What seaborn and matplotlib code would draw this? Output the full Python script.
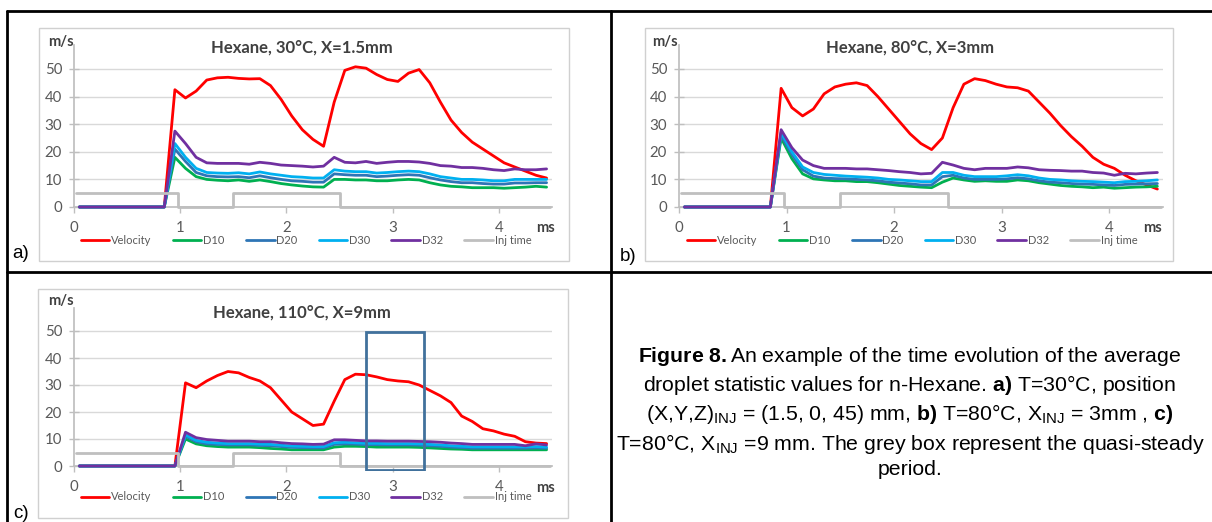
import matplotlib
matplotlib.use("Agg")
import matplotlib.pyplot as plt
import seaborn as sns
from matplotlib.patches import Rectangle
from matplotlib.lines import Line2D

sns.set_theme(style="white")
plt.rcParams['font.family'] = ['Lato', 'DejaVu Sans']
plt.rcParams['mathtext.fontset'] = 'custom'
plt.rcParams['mathtext.rm'] = 'Liberation Sans'
plt.rcParams['mathtext.bf'] = 'Liberation Sans:bold'
plt.rcParams['mathtext.it'] = 'Liberation Sans:italic'

W, H = 1212, 522

# ---------------- data ----------------
t = [0.05, 0.15, 0.25, 0.35, 0.45, 0.55, 0.65, 0.75, 0.85, 0.95,
     1.05, 1.15, 1.25, 1.35, 1.45, 1.55, 1.65, 1.75, 1.85, 1.95,
     2.05, 2.15, 2.25, 2.35, 2.45, 2.55, 2.65, 2.75, 2.85, 2.95,
     3.05, 3.15, 3.25, 3.35, 3.45, 3.55, 3.65, 3.75, 3.85, 3.95,
     4.05, 4.15, 4.25, 4.35, 4.45]

series_names = ["Velocity", "D10", "D20", "D30", "D32"]
inj_name = "Inj time"
inj_t = [0.02, 0.98, 0.98, 1.5, 1.5, 2.5, 2.5, 4.48]
inj_v = [5, 5, 0, 0, 5, 5, 0, 0]

# panel a) Hexane, 30°C, X=1.5mm
vel_a = [0, 0, 0, 0, 0, 0, 0, 0, 0,
         42.5, 39.5, 42, 46, 46.8, 47, 46.6, 46.4, 46.5, 44,
         39, 33, 28, 24.5, 22, 38, 49.5, 50.8, 50.3, 48,
         46.2, 45.5, 48.5, 49.8, 45, 38, 31.5, 27, 23.5, 21,
         18.5, 16, 14.5, 13, 11.5, 10.5]
d10_a = [0, 0, 0, 0, 0, 0, 0, 0, 0,
         18, 14, 11, 10, 9.7, 9.5, 9.8, 9.3, 9.8, 9.2,
         8.5, 8, 7.6, 7.3, 7.2, 10, 10, 9.8, 9.8, 9.5,
         9.5, 9.8, 10, 9.8, 8.8, 8, 7.5, 7.3, 7, 7,
         7, 6.8, 7, 7.2, 7.5, 7.2]
d20_a = [0, 0, 0, 0, 0, 0, 0, 0, 0,
         21, 16.5, 12.5, 11.3, 11, 10.9, 11, 10.6, 11.3, 10.6,
         10, 9.5, 9.3, 9, 9, 12, 11.7, 11.5, 11.5, 11,
         11.2, 11.5, 11.7, 11.5, 10.6, 9.8, 9.2, 8.8, 8.8, 8.5,
         8.3, 8.3, 8.7, 8.7, 8.8, 8.8]
d30_a = [0, 0, 0, 0, 0, 0, 0, 0, 0,
         23, 18, 14, 12.5, 12.3, 12.2, 12.4, 12, 12.7, 12,
         11.5, 11, 10.8, 10.5, 10.5, 13.5, 13, 12.8, 12.8, 12.3,
         12.5, 12.8, 13, 12.8, 12, 11, 10.5, 10, 10, 9.8,
         9.5, 9.5, 10, 10, 10, 10]
d32_a = [0, 0, 0, 0, 0, 0, 0, 0, 0,
         27.5, 23, 18, 16, 15.8, 15.8, 15.8, 15.5, 16.2, 15.8,
         15.2, 15, 14.8, 14.5, 14.8, 18, 16.2, 16, 16.5, 15.8,
         16.2, 16.5, 16.5, 16.3, 15.8, 15, 14.8, 14.3, 14.3, 14,
         13.5, 13.2, 13.8, 13.5, 13.5, 13.8]

# panel b) Hexane, 80°C, X=3mm
vel_b = [0, 0, 0, 0, 0, 0, 0, 0, 0,
         43, 36, 33, 35.5, 41, 43.5, 44.5, 45, 44, 40,
         35.5, 31, 26.5, 23, 20.8, 25, 36, 44.5, 46.5, 45.8,
         44.5, 43.5, 43.2, 42, 38, 34, 29.5, 25.5, 22, 18,
         15.5, 14, 11.5, 9.5, 8, 6.5]
d10_b = [0, 0, 0, 0, 0, 0, 0, 0, 0,
         25, 17.5, 12, 10.2, 9.8, 9.5, 9.5, 9.2, 9.2, 8.8,
         8.3, 7.8, 7.5, 7.2, 7, 9, 10.5, 9.8, 9.3, 9.5,
         9.3, 9.3, 9.8, 9.5, 8.8, 8.3, 7.8, 7.5, 7.3, 7,
         7.2, 6.8, 7, 7.2, 7.3, 7.5]
d20_b = [0, 0, 0, 0, 0, 0, 0, 0, 0,
         26, 19, 13.5, 11.2, 10.5, 10.3, 10.2, 10, 9.8, 9.5,
         9, 8.7, 8.4, 8, 8, 11, 11.5, 10.5, 10, 10,
         10, 10.2, 10.6, 10.2, 9.5, 9, 8.8, 8.5, 8.3, 8.2,
         8, 7.8, 8.2, 8.3, 8.4, 8.5]
d30_b = [0, 0, 0, 0, 0, 0, 0, 0, 0,
         27, 20, 14.5, 12.5, 11.8, 11.5, 11.2, 11, 10.8, 10.5,
         10, 9.8, 9.5, 9.2, 9.2, 12.5, 12.5, 11.5, 11, 11,
         11, 11.3, 11.7, 11.3, 10.5, 10, 9.8, 9.5, 9.3, 9.2,
         9, 8.8, 9.2, 9.3, 9.5, 9.8]
d32_b = [0, 0, 0, 0, 0, 0, 0, 0, 0,
         28, 21.5, 17, 15, 14, 14, 14, 13.8, 13.8, 13.5,
         13.2, 12.8, 12.5, 12, 12.2, 16.2, 15.2, 14, 13.5, 14,
         14, 14, 14.5, 14.2, 13.5, 13.3, 13.2, 13, 13, 12.5,
         12.3, 11.5, 12.2, 12, 12.3, 12.5]

# panel c) Hexane, 110°C, X=9mm
vel_c = [0, 0, 0, 0, 0, 0, 0, 0, 0, 0,
         30.8, 29, 31.5, 33.5, 35, 34.5, 32.8, 31.5, 29, 24.5,
         20, 17.5, 15, 15.5, 24, 32, 34, 33.8, 33, 32,
         31.5, 31.2, 30, 28, 26, 23.5, 18.5, 16.5, 13.8, 13,
         11.8, 11, 9, 8.5, 8.3]
d10_c = [0, 0, 0, 0, 0, 0, 0, 0, 0, 0,
         10, 8.2, 7.5, 7.2, 7, 7, 7, 6.8, 6.5, 6.3,
         6, 6, 6, 6, 7, 7.3, 7.3, 7.2, 7, 7,
         7, 7, 6.9, 6.7, 6.5, 6.3, 6.2, 6, 6, 6,
         6, 6, 6, 6, 6]
d20_c = [0, 0, 0, 0, 0, 0, 0, 0, 0, 0,
         11, 9, 8.2, 8, 7.8, 7.8, 7.8, 7.6, 7.5, 7.2,
         6.9, 6.8, 6.7, 6.7, 8, 8.2, 8.1, 7.9, 7.9, 7.8,
         7.8, 7.8, 7.7, 7.5, 7.3, 7, 6.8, 6.6, 6.6, 6.6,
         6.6, 6.6, 6.6, 6.7, 6.6]
d30_c = [0, 0, 0, 0, 0, 0, 0, 0, 0, 0,
         11.5, 9.5, 8.8, 8.5, 8.3, 8.3, 8.3, 8.1, 8, 7.7,
         7.4, 7.3, 7.2, 7.2, 8.6, 8.8, 8.6, 8.4, 8.4, 8.3,
         8.3, 8.3, 8.2, 8, 7.8, 7.5, 7.3, 7.1, 7.1, 7.1,
         7.1, 7.1, 7.1, 7.2, 7]
d32_c = [0, 0, 0, 0, 0, 0, 0, 0, 0, 0,
         12.5, 10.5, 9.8, 9.5, 9.2, 9.2, 9.2, 9, 9, 8.6,
         8.3, 8.2, 8, 8.1, 9.7, 9.7, 9.5, 9.3, 9.3, 9.2,
         9.2, 9.2, 9.1, 9, 8.8, 8.5, 8.3, 8, 8, 8,
         8, 8, 7.5, 8.2, 7.8]

steady_box_t = [2.75, 3.3]      # quasi-steady period (panel c)
steady_box_v = [-1.6, 49.5]

titles = ["Hexane, 30°C, X=1.5mm", "Hexane, 80°C, X=3mm", "Hexane, 110°C, X=9mm"]
panel_tags = ["a)", "b)", "c)"]
yticks = [0, 10, 20, 30, 40, 50]
xticks = [0, 1, 2, 3, 4]

colors = ["#FF0000", "#00B050", "#2E75B6", "#00B0F0", "#7030A0"]
inj_color = "#BFBFBF"

caption = (r"$\mathbf{Figure\ 8.}$An example of the time evolution of the average" "\n"
           r"droplet statistic values for n-Hexane. $\mathbf{a)}$ T=30°C, position" "\n"
           r"(X,Y,Z)$_{\mathrm{INJ}}$ = (1.5, 0, 45) mm, $\mathbf{b)}$ T=80°C, X$_{\mathrm{INJ}}$ = 3mm , $\mathbf{c)}$" "\n"
           r"T=80°C, X$_{\mathrm{INJ}}$ =9 mm. The grey box represent the quasi-steady" "\n"
           "period.")

# ---------------- layout (pixels) ----------------
panels = [
    dict(series=[vel_a, d10_a, d20_a, d30_a, d32_a], x0=74, xpm=106.2, y0=207, ypu=2.76,
         box=(39, 28, 569, 261), tag=(12, 254), title_xy=(302, 48), ms_xy=(536, 228),
         mps_xy=(48, 42), leg_xy=(306, 240)),
    dict(series=[vel_b, d10_b, d20_b, d30_b, d32_b], x0=679, xpm=107.5, y0=207, ypu=2.76,
         box=(645, 28, 1173, 261), tag=(620, 257), title_xy=(910, 48), ms_xy=(1143, 228),
         mps_xy=(652, 42), leg_xy=(912, 240)),
    dict(series=[vel_c, d10_c, d20_c, d30_c, d32_c], x0=74, xpm=106.2, y0=466, ypu=2.7,
         box=(38, 289, 568, 518), tag=(13, 513), title_xy=(302, 313), ms_xy=(536, 488),
         mps_xy=(48, 301), leg_xy=(306, 497)),
]

fig = plt.figure(figsize=(W / 100, H / 100), dpi=100)
fig.patch.set_facecolor("white")

YTOP, YBOT, XMAX = 58.7, -2.0, 4.5
axis_col = "#BFBFBF"
grid_col = "#D9D9D9"
txt_col = "#595959"

for i, p in enumerate(panels):
    # chart box
    bx0, by0, bx1, by1 = p["box"]
    fig.add_artist(Rectangle((bx0 / W, 1 - by1 / H), (bx1 - bx0) / W, (by1 - by0) / H,
                             transform=fig.transFigure, fill=False, edgecolor="#D0D0D0", lw=1.0))
    left = p["x0"]
    width = XMAX * p["xpm"]
    top = p["y0"] - YTOP * p["ypu"]
    height = (YTOP - YBOT) * p["ypu"]
    ax = fig.add_axes([left / W, 1 - (top + height) / H, width / W, height / H])
    ax.set_facecolor("none")

    for name, vals, col in zip(series_names, p["series"], colors):
        sns.lineplot(x=t, y=vals, ax=ax, color=col, linewidth=2.0, label=name,
                     estimator=None, sort=False)
    sns.lineplot(x=inj_t, y=inj_v, ax=ax, color=inj_color, linewidth=2.0, label=inj_name,
                 estimator=None, sort=False)

    if i == 2:
        ax.add_patch(Rectangle((steady_box_t[0], steady_box_v[0]),
                               steady_box_t[1] - steady_box_t[0],
                               steady_box_v[1] - steady_box_v[0],
                               fill=False, edgecolor="#41719C", lw=2.0, zorder=10))

    ax.set_xlim(0, XMAX)
    ax.set_ylim(YBOT, YTOP)
    ax.set_xticks(xticks)
    ax.set_yticks(yticks)
    ax.set_xticklabels([str(v) for v in xticks])
    ax.set_yticklabels([str(v) for v in yticks])
    ax.set_xlabel("")
    ax.set_ylabel("")
    for g in yticks[1:]:
        ax.axhline(g, color=grid_col, lw=1.0, zorder=0)
    for s in ["top", "right"]:
        ax.spines[s].set_visible(False)
    ax.spines["bottom"].set_position(("data", 0))
    ax.spines["bottom"].set_color(axis_col)
    ax.spines["bottom"].set_zorder(0.5)
    ax.spines["left"].set_color(axis_col)
    ax.spines["left"].set_bounds(0, YTOP)
    ax.tick_params(axis="y", direction="inout", length=7, width=1, color=axis_col,
                   labelsize=10.8, labelcolor=txt_col, pad=5, left=True)
    ax.tick_params(axis="x", direction="out", length=4, width=1, color=axis_col,
                   labelsize=10.8, labelcolor=txt_col, pad=6, bottom=True)

    ax.legend(loc="center", bbox_to_anchor=(p["leg_xy"][0] / W, 1 - p["leg_xy"][1] / H),
              bbox_transform=fig.transFigure, ncol=6, frameon=False, fontsize=8.0,
              handlelength=2.6, handletextpad=0.15, columnspacing=1.9,
              labelcolor=txt_col, borderaxespad=0, borderpad=0)

    fig.text(p["title_xy"][0] / W, 1 - p["title_xy"][1] / H, titles[i], ha="center",
             va="center", fontsize=12, fontweight="bold", color="#404040")
    fig.text(p["mps_xy"][0] / W, 1 - p["mps_xy"][1] / H, "m/s", ha="left", va="center",
             fontsize=10.5, fontweight="bold", color="#404040")
    fig.text(p["ms_xy"][0] / W, 1 - p["ms_xy"][1] / H, "ms", ha="left", va="center",
             fontsize=10.5, fontweight="bold", color="#404040")
    fig.text(p["tag"][0] / W, 1 - p["tag"][1] / H, panel_tags[i], ha="left", va="center",
             fontsize=13.5, family="Liberation Sans", color="black")

# table frame
def fline(x0, y0, x1, y1):
    fig.add_artist(Line2D([x0 / W, x1 / W], [1 - y0 / H, 1 - y1 / H],
                          transform=fig.transFigure, color="black", lw=2.0))

fline(7, 11, W, 11)
fline(7, 11, 7, H)
fline(611, 11, 611, H)
fline(7, 272, W, 272)

fig.text(910 / W, 1 - 412 / H, caption, ha="center", va="center", multialignment="center",
         fontsize=15.3, linespacing=1.3, family="Liberation Sans", color="black")

fig.savefig("out.png", dpi=100, facecolor="white")
